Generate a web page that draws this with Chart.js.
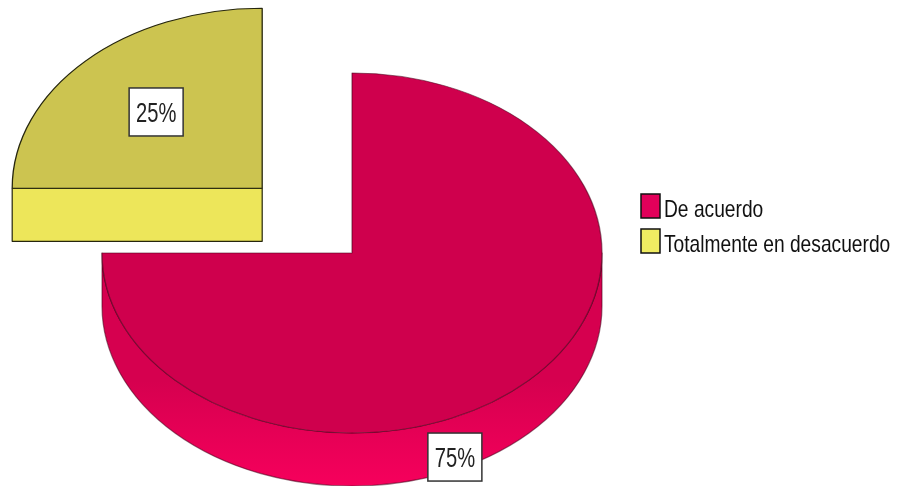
<!DOCTYPE html>
<html>
<head>
<meta charset="utf-8">
<script src="https://cdn.jsdelivr.net/npm/chart.js@4"></script>
<style>
  html, body { margin: 0; padding: 0; background: #ffffff; }
  canvas { display: block; }
</style>
</head>
<body>
<canvas id="chart" width="904" height="486"></canvas>
<script>
// Answer categories and their shares (percent)
const categories = ['De acuerdo', 'Totalmente en desacuerdo'];
const percentages = [75, 25];

// Colours: top face, extruded side (upper / lower shade), legend swatch, outline
const topColors = ['#CF004D', '#CCC450'];
const sideTop = ['#D6004F', '#EDE65A'];
const sideBottom = ['#F6005C', '#EDE65A'];
const legendColors = ['#E2005A', '#F0EC62'];
const edgeColors = ['rgba(70,0,25,0.55)', '#26260E'];

// 3D look: vertical squash of the disc and thickness of the slab
const TILT = 0.72;
const DEPTH = 53;

// Chart.js translates an arc by offset / 4 along its mid angle
const explode = [0, 508];

// Where each percentage box sits: angle on the disc (deg, clockwise from 3 o'clock),
// fraction of the radius, extra drop in px
const labelPlacement = [
  { angle: 65.7, r: 1.0, drop: 40 },
  { angle: 225, r: 0.6, drop: 0 }
];

function sliceGeometry(chart, arc) {
  const cy = (chart.chartArea.top + chart.chartArea.bottom) / 2;
  const off = (arc.options.offset || 0) / 4;
  const mid = (arc.startAngle + arc.endAngle) / 2;
  return {
    x: arc.x + Math.cos(mid) * off,
    y: cy + (arc.y - cy + Math.sin(mid) * off) * TILT,
    rx: arc.outerRadius,
    ry: arc.outerRadius * TILT,
    start: arc.startAngle,
    end: arc.endAngle
  };
}

function drawCondensed(ctx, text, x, y, size, kx, align) {
  ctx.save();
  ctx.font = size + 'px "Liberation Sans", Arial, sans-serif';
  ctx.textBaseline = 'alphabetic';
  ctx.textAlign = align;
  ctx.translate(x, y);
  ctx.scale(kx, 1);
  ctx.fillText(text, 0, 0);
  ctx.restore();
}

const pie3d = {
  id: 'pie3d',
  beforeDatasetsDraw(chart) {
    const ctx = chart.ctx;
    const meta = chart.getDatasetMeta(0);
    const TAU = Math.PI * 2;

    meta.data.forEach((arc, i) => {
      const g = sliceGeometry(chart, arc);
      ctx.save();
      const grad = ctx.createLinearGradient(0, g.y, 0, g.y + g.ry + DEPTH);
      grad.addColorStop(0, sideTop[i]);
      grad.addColorStop(0.55, sideTop[i]);
      grad.addColorStop(1, sideBottom[i]);
      ctx.fillStyle = grad;
      ctx.strokeStyle = edgeColors[i];
      ctx.lineWidth = 1.2;
      ctx.lineJoin = 'round';

      // curved rim facing the viewer (angles between 0 and PI)
      let s = g.start, e = g.end;
      while (s < 0) { s += TAU; e += TAU; }
      const a0 = Math.max(s, 0), a1 = Math.min(e, Math.PI);
      const b0 = Math.max(s, TAU), b1 = Math.min(e, TAU + Math.PI);
      [[a0, a1], [b0, b1]].forEach(([u, v]) => {
        if (v - u <= 1e-6) return;
        ctx.beginPath();
        ctx.ellipse(g.x, g.y, g.rx, g.ry, 0, u, v, false);
        ctx.lineTo(g.x + g.rx * Math.cos(v), g.y + g.ry * Math.sin(v) + DEPTH);
        ctx.ellipse(g.x, g.y + DEPTH, g.rx, g.ry, 0, v, u, true);
        ctx.closePath();
        ctx.fill();
        ctx.stroke();
      });

      // flat cut faces that turn toward the viewer
      ctx.fillStyle = sideTop[i];
      const faces = [];
      if (Math.cos(g.start) < -1e-6) faces.push(g.start);
      if (Math.cos(g.end) > 1e-6) faces.push(g.end);
      faces.forEach(t => {
        const px = g.x + g.rx * Math.cos(t);
        const py = g.y + g.ry * Math.sin(t);
        ctx.beginPath();
        ctx.moveTo(g.x, g.y);
        ctx.lineTo(px, py);
        ctx.lineTo(px, py + DEPTH);
        ctx.lineTo(g.x, g.y + DEPTH);
        ctx.closePath();
        ctx.fill();
        ctx.stroke();
      });
      ctx.restore();
    });

    // squash the disc so Chart.js paints the tilted top faces
    const cy = (chart.chartArea.top + chart.chartArea.bottom) / 2;
    ctx.save();
    ctx.translate(0, cy);
    ctx.scale(1, TILT);
    ctx.translate(0, -cy);
  },
  afterDatasetsDraw(chart) {
    const ctx = chart.ctx;
    ctx.restore();

    const meta = chart.getDatasetMeta(0);
    const values = chart.data.datasets[0].data;
    const total = values.reduce((a, b) => a + b, 0);

    meta.data.forEach((arc, i) => {
      const g = sliceGeometry(chart, arc);
      const pl = labelPlacement[i];
      const t = pl.angle * Math.PI / 180;
      const cx = g.x + g.rx * pl.r * Math.cos(t);
      const cy = g.y + g.ry * pl.r * Math.sin(t) + pl.drop;
      const text = Math.round(values[i] / total * 100) + '%';
      const w = 54, h = 48;
      ctx.save();
      ctx.fillStyle = '#ffffff';
      ctx.strokeStyle = '#333333';
      ctx.lineWidth = 1.5;
      ctx.fillRect(cx - w / 2, cy - h / 2, w, h);
      ctx.strokeRect(cx - w / 2, cy - h / 2, w, h);
      ctx.fillStyle = '#222222';
      drawCondensed(ctx, text, cx, cy + 10, 28, 0.72, 'center');
      ctx.restore();
    });
  },
  afterDraw(chart) {
    const ctx = chart.ctx;
    const x0 = 641, y0 = 194, rowStep = 35;
    chart.data.labels.forEach((label, i) => {
      const y = y0 + i * rowStep;
      ctx.save();
      ctx.fillStyle = legendColors[i];
      ctx.strokeStyle = '#111111';
      ctx.lineWidth = 1.5;
      ctx.fillRect(x0, y, 19, 24);
      ctx.strokeRect(x0, y, 19, 24);
      ctx.fillStyle = '#111111';
      drawCondensed(ctx, label, x0 + 23, y + 23, 24, 0.8, 'left');
      ctx.restore();
    });
  }
};

new Chart(document.getElementById('chart'), {
  type: 'pie',
  data: {
    labels: categories,
    datasets: [{
      data: percentages,
      backgroundColor: topColors,
      borderColor: edgeColors,
      borderWidth: 1.3,
      offset: explode,
      cutout: '0%',
      radius: 250,
      clip: false
    }]
  },
  options: {
    responsive: false,
    animation: false,
    events: [],
    layout: { padding: { top: 20, right: 200, left: 0, bottom: 0 } },
    plugins: {
      legend: { display: false },
      tooltip: { enabled: false }
    }
  },
  plugins: [pie3d]
});
</script>
</body>
</html>
